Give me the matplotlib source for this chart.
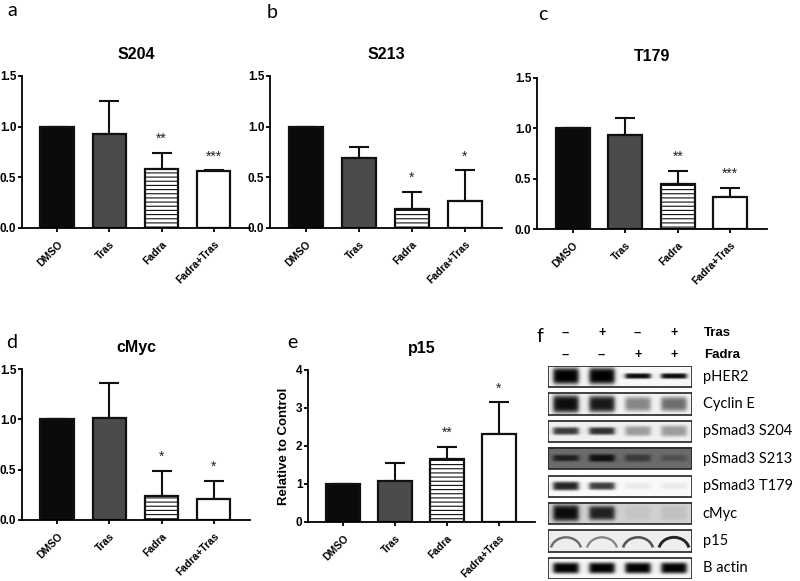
import numpy as np
import matplotlib
matplotlib.use("Agg")
import matplotlib.pyplot as plt
from matplotlib.patches import Rectangle, Arc

plt.rcParams['font.family'] = ['Liberation Sans', 'DejaVu Sans']
plt.rcParams['hatch.linewidth'] = 0.8

# bar chart data
groups = ["DMSO", "Tras", "Fadra", "Fadra+Tras"]

s204_mean = [1.0, 0.93, 0.58, 0.56]
s204_top = [1.0, 1.25, 0.74, 0.57]
s204_stars = ["", "", "**", "***"]

s213_mean = [1.0, 0.69, 0.19, 0.27]
s213_top = [1.0, 0.80, 0.36, 0.57]
s213_stars = ["", "", "*", "*"]

t179_mean = [1.0, 0.93, 0.45, 0.32]
t179_top = [1.0, 1.10, 0.58, 0.41]
t179_stars = ["", "", "**", "***"]

cmyc_mean = [1.0, 1.01, 0.24, 0.21]
cmyc_top = [1.0, 1.36, 0.49, 0.39]
cmyc_stars = ["", "", "*", "*"]

p15_mean = [1.0, 1.09, 1.67, 2.31]
p15_top = [1.0, 1.55, 1.97, 3.15]
p15_stars = ["", "", "**", "*"]

# western blot (panel f): band darkness per lane, 0 = none, 1 = black
blot_rows = ["pHER2", "Cyclin E", "pSmad3 S204", "pSmad3 S213",
             "pSmad3 T179", "cMyc", "p15", "B actin"]
blot_bg = [0.97, 0.95, 0.94, 0.42, 0.98, 0.82, 0.93, 0.97]
blot_dark = [
    [1.0, 1.0, 0.95, 0.95],
    [0.95, 0.9, 0.45, 0.55],
    [0.75, 0.8, 0.35, 0.35],
    [0.7, 0.85, 0.45, 0.25],
    [0.85, 0.75, 0.06, 0.06],
    [0.95, 0.85, 0.06, 0.08],
    [0.55, 0.45, 0.65, 0.85],
    [1.0, 1.0, 1.0, 1.0],
]
blot_thick = [
    [0.75, 0.75, 0.25, 0.25],
    [0.8, 0.75, 0.65, 0.65],
    [0.35, 0.35, 0.45, 0.5],
    [0.3, 0.35, 0.35, 0.3],
    [0.4, 0.35, 0.3, 0.3],
    [0.75, 0.65, 0.7, 0.7],
    [0.0, 0.0, 0.0, 0.0],
    [0.5, 0.5, 0.5, 0.5],
]
tras_signs = ["--", "+", "--", "+"]
fadra_signs = ["--", "--", "+", "+"]

W, H = 800, 581
fig = plt.figure(figsize=(8, 5.81), dpi=100)


def px_axes(x0, y0, x1, y1):
    return fig.add_axes([x0 / W, 1 - y1 / H, (x1 - x0) / W, (y1 - y0) / H])


def bar_panel(ax, means, tops, stars, title, ymax, ystep, ylabel=None):
    x = np.arange(len(groups))
    fills = ["#0b0b0b", "#4b4b4b", "white", "white"]
    hatches = [None, None, "----", None]
    errs = [np.zeros(4), np.array(tops) - np.array(means)]
    ax.errorbar(x, means, yerr=errs, fmt="none", ecolor="#111111",
                elinewidth=1.5, capsize=7, capthick=1.5, zorder=1)
    for i in range(4):
        ax.bar(x[i], means[i], width=0.65, color=fills[i], edgecolor="#111111",
               linewidth=1.6, hatch=hatches[i], zorder=2)
        if stars[i]:
            ax.annotate(stars[i], (x[i], tops[i]), xytext=(0, 5),
                        textcoords="offset points", ha="center", va="bottom",
                        fontsize=10, color="#222222")
    ax.set_xlim(-0.68, 3.7)
    ax.set_ylim(0, ymax)
    ticks = np.arange(0, ymax + 0.001, ystep)
    ax.set_yticks(ticks)
    if ystep < 1:
        ax.set_yticklabels([f"{v:.1f}" for v in ticks])
    else:
        ax.set_yticklabels([f"{v:.0f}" for v in ticks])
    ax.set_xticks(x)
    ax.set_xticklabels(groups, rotation=45, ha="right", va="top",
                       rotation_mode="anchor", fontweight="bold", fontsize=7.5)
    for lab in ax.get_yticklabels():
        lab.set_fontweight("bold")
        lab.set_fontsize(8.5)
    ax.spines["top"].set_visible(False)
    ax.spines["right"].set_visible(False)
    ax.spines["left"].set_linewidth(1.3)
    ax.spines["bottom"].set_linewidth(1.3)
    ax.tick_params(axis="y", length=3, width=1.3, pad=1)
    ax.tick_params(axis="x", length=3, width=1.3, pad=5)
    ax.set_title(title, fontweight="bold", fontsize=11.5, pad=12)
    if ylabel:
        ax.set_ylabel(ylabel, fontweight="bold", fontsize=9.5, labelpad=4)


ax_a = px_axes(22, 76, 250, 228)
bar_panel(ax_a, s204_mean, s204_top, s204_stars, "S204", 1.5, 0.5)
ax_b = px_axes(270, 76, 502, 228)
bar_panel(ax_b, s213_mean, s213_top, s213_stars, "S213", 1.5, 0.5)
ax_c = px_axes(537, 78, 767, 229)
bar_panel(ax_c, t179_mean, t179_top, t179_stars, "T179", 1.5, 0.5)
ax_d = px_axes(22, 369, 250, 520)
bar_panel(ax_d, cmyc_mean, cmyc_top, cmyc_stars, "cMyc", 1.5, 0.5)
ax_e = px_axes(308, 370, 535, 522)
bar_panel(ax_e, p15_mean, p15_top, p15_stars, "p15", 4, 1, ylabel="Relative to Control")

# panel letters
letter_font = dict(fontsize=14, family=["Lato", "DejaVu Sans"], ha="center", va="center")
for letter, (lx, ly) in zip("abcdef", [(12, 11), (272, 12), (543, 14),
                                       (12, 343), (292, 343), (540, 337)]):
    fig.text(lx / W, 1 - ly / H, letter, **letter_font)

# western blot
ax_f = px_axes(548, 366, 692, 579)
box_h = 0.77
ax_f.set_xlim(0, 4)
ax_f.set_ylim(len(blot_rows) - 1 + box_h, 0)
ax_f.axis("off")

nx, ny = 160, 24
u = (np.arange(nx) + 0.5) / nx * 4
v = (np.arange(ny) + 0.5) / ny
for r, name in enumerate(blot_rows):
    bg = blot_bg[r]
    img = np.full((ny, nx), bg)
    if name != "p15":
        for lane in range(4):
            d = blot_dark[r][lane]
            th = blot_thick[r][lane]
            hx = 1 / (1 + np.exp((np.abs(u - lane - 0.5) - 0.35) / 0.035))
            hy = np.exp(-((v - 0.5) / (th / 2)) ** 4)
            img = img * (1 - d * np.outer(hy, hx))
    ax_f.imshow(img, cmap="gray", vmin=0, vmax=1, extent=(0, 4, r + box_h, r),
                aspect="auto", interpolation="bilinear", zorder=1)
    ax_f.add_patch(Rectangle((0, r), 4, box_h, fill=False,
                             edgecolor="#222222", linewidth=1.2, zorder=3))
    if name == "p15":
        for lane in range(4):
            d = blot_dark[r][lane]
            col = str(round(bg * (1 - d), 3))
            ax_f.add_patch(Arc((lane + 0.5, r + box_h * 0.95), 0.85, box_h * 1.25,
                               theta1=195, theta2=345, color=col,
                               linewidth=1.0 + 1.3 * d, zorder=2))
    ax_f.text(4.3, r + box_h / 2, name, ha="left", va="center", fontsize=10.5,
              family=["Lato", "DejaVu Sans"], clip_on=False)

for lane in range(4):
    ax_f.text(lane + 0.5, -1.2, tras_signs[lane], ha="center", va="center",
              fontsize=9, fontweight="bold", clip_on=False)
    ax_f.text(lane + 0.5, -0.4, fadra_signs[lane], ha="center", va="center",
              fontsize=9, fontweight="bold", clip_on=False)
ax_f.text(4.33, -1.2, "Tras", ha="left", va="center", fontsize=9.5,
          fontweight="bold", clip_on=False)
ax_f.text(4.33, -0.4, "Fadra", ha="left", va="center", fontsize=9.5,
          fontweight="bold", clip_on=False)

fig.savefig("out.png", dpi=100)
